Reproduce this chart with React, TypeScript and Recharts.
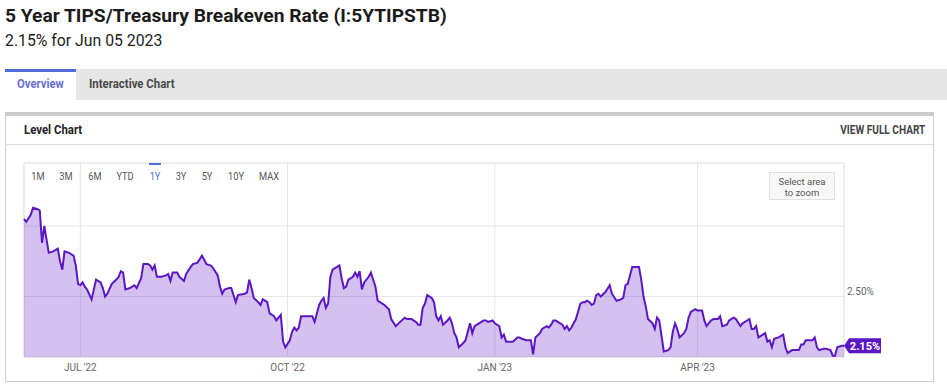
import { AreaChart, Area, XAxis, YAxis, CartesianGrid, ReferenceArea, ReferenceDot } from "recharts"

const title = "5 Year TIPS/Treasury Breakeven Rate (I:5YTIPSTB)"
const subtitle = "2.15% for Jun 05 2023"

const dates = [
    "2022-06-06", "2022-06-07", "2022-06-09", "2022-06-10", "2022-06-12", "2022-06-13", "2022-06-14", "2022-06-15", "2022-06-17", "2022-06-19", "2022-06-21", "2022-06-22", "2022-06-23", "2022-06-24", "2022-06-26", "2022-06-28", "2022-06-29", "2022-06-30",
    "2022-07-01", "2022-07-02", "2022-07-03", "2022-07-04", "2022-07-06", "2022-07-08", "2022-07-10", "2022-07-11", "2022-07-12", "2022-07-13", "2022-07-15", "2022-07-17", "2022-07-18", "2022-07-19", "2022-07-20", "2022-07-21", "2022-07-23", "2022-07-25", "2022-07-26", "2022-07-28", "2022-07-29", "2022-07-31",
    "2022-08-01", "2022-08-02", "2022-08-03", "2022-08-04", "2022-08-06", "2022-08-08", "2022-08-09", "2022-08-10", "2022-08-11", "2022-08-13", "2022-08-14", "2022-08-16", "2022-08-17", "2022-08-19", "2022-08-20", "2022-08-22", "2022-08-24", "2022-08-26", "2022-08-28", "2022-08-29", "2022-08-31",
    "2022-09-01", "2022-09-02", "2022-09-03", "2022-09-05", "2022-09-06", "2022-09-08", "2022-09-09", "2022-09-12", "2022-09-13", "2022-09-14", "2022-09-15", "2022-09-16", "2022-09-18", "2022-09-19", "2022-09-20", "2022-09-22", "2022-09-23", "2022-09-25", "2022-09-26", "2022-09-28", "2022-09-29", "2022-09-30",
    "2022-10-02", "2022-10-03", "2022-10-04", "2022-10-05", "2022-10-06", "2022-10-07", "2022-10-10", "2022-10-12", "2022-10-13", "2022-10-14", "2022-10-15", "2022-10-16", "2022-10-17", "2022-10-18", "2022-10-19", "2022-10-20", "2022-10-21", "2022-10-23", "2022-10-24", "2022-10-25", "2022-10-26", "2022-10-27", "2022-10-28", "2022-10-30", "2022-10-31",
    "2022-11-01", "2022-11-02", "2022-11-03", "2022-11-04", "2022-11-06", "2022-11-07", "2022-11-09", "2022-11-10", "2022-11-11", "2022-11-13", "2022-11-15", "2022-11-16", "2022-11-18", "2022-11-20", "2022-11-22", "2022-11-23", "2022-11-25", "2022-11-27", "2022-11-28", "2022-11-29", "2022-11-30",
    "2022-12-01", "2022-12-02", "2022-12-04", "2022-12-05", "2022-12-06", "2022-12-07", "2022-12-08", "2022-12-09", "2022-12-11", "2022-12-12", "2022-12-13", "2022-12-14", "2022-12-15", "2022-12-16", "2022-12-18", "2022-12-19", "2022-12-20", "2022-12-21", "2022-12-22", "2022-12-23", "2022-12-25", "2022-12-27", "2022-12-28", "2022-12-29", "2022-12-31",
    "2023-01-01", "2023-01-03", "2023-01-04", "2023-01-05", "2023-01-06", "2023-01-08", "2023-01-09", "2023-01-11", "2023-01-12", "2023-01-13", "2023-01-15", "2023-01-17", "2023-01-18", "2023-01-19", "2023-01-21", "2023-01-22", "2023-01-24", "2023-01-25", "2023-01-26", "2023-01-27", "2023-01-28", "2023-01-30", "2023-01-31",
    "2023-02-01", "2023-02-02", "2023-02-03", "2023-02-04", "2023-02-05", "2023-02-06", "2023-02-08", "2023-02-09", "2023-02-10", "2023-02-11", "2023-02-12", "2023-02-13", "2023-02-14", "2023-02-15", "2023-02-16", "2023-02-17", "2023-02-19", "2023-02-21", "2023-02-22", "2023-02-24", "2023-02-26", "2023-02-27", "2023-02-28",
    "2023-03-01", "2023-03-03", "2023-03-06", "2023-03-07", "2023-03-08", "2023-03-09", "2023-03-10", "2023-03-12", "2023-03-13", "2023-03-14", "2023-03-15", "2023-03-17", "2023-03-19", "2023-03-20", "2023-03-21", "2023-03-22", "2023-03-23", "2023-03-24", "2023-03-26", "2023-03-27", "2023-03-28", "2023-03-29", "2023-03-31",
    "2023-04-01", "2023-04-03", "2023-04-04", "2023-04-05", "2023-04-07", "2023-04-08", "2023-04-10", "2023-04-11", "2023-04-12", "2023-04-14", "2023-04-15", "2023-04-17", "2023-04-18", "2023-04-20", "2023-04-21", "2023-04-23", "2023-04-24", "2023-04-25", "2023-04-26", "2023-04-27", "2023-04-28", "2023-04-30",
    "2023-05-01", "2023-05-02", "2023-05-03", "2023-05-04", "2023-05-05", "2023-05-07", "2023-05-09", "2023-05-10", "2023-05-11", "2023-05-13", "2023-05-15", "2023-05-16", "2023-05-17", "2023-05-18", "2023-05-19", "2023-05-21", "2023-05-22", "2023-05-23", "2023-05-24", "2023-05-25", "2023-05-27", "2023-05-28", "2023-05-30", "2023-05-31",
    "2023-06-01", "2023-06-02", "2023-06-04", "2023-06-05",
]

const rates = [
    3.05, 3.03, 3.08, 3.13, 3.12, 3.11, 2.88, 3.00, 2.81, 2.82, 2.84, 2.75, 2.69, 2.82, 2.81, 2.79, 2.72, 2.59,
    2.58, 2.60, 2.57, 2.55, 2.48, 2.62, 2.60, 2.56, 2.50, 2.52, 2.59, 2.62, 2.64, 2.68, 2.67, 2.55, 2.56, 2.58, 2.56, 2.63, 2.73, 2.73,
    2.72, 2.69, 2.72, 2.64, 2.64, 2.65, 2.66, 2.61, 2.67, 2.67, 2.64, 2.61, 2.66, 2.71, 2.73, 2.74, 2.79, 2.73, 2.72, 2.70, 2.65,
    2.57, 2.52, 2.55, 2.56, 2.56, 2.46, 2.51, 2.52, 2.53, 2.62, 2.56, 2.49, 2.46, 2.44, 2.48, 2.46, 2.38, 2.36, 2.33, 2.37, 2.18, 2.14,
    2.19, 2.25, 2.28, 2.26, 2.28, 2.36, 2.36, 2.36, 2.32, 2.38, 2.44, 2.47, 2.49, 2.42, 2.45, 2.64, 2.69, 2.71, 2.72, 2.63, 2.56, 2.57, 2.62, 2.64, 2.67,
    2.64, 2.68, 2.55, 2.60, 2.64, 2.67, 2.57, 2.47, 2.46, 2.44, 2.41, 2.34, 2.29, 2.32, 2.35, 2.34, 2.34, 2.32, 2.30, 2.30, 2.42,
    2.45, 2.51, 2.49, 2.46, 2.36, 2.33, 2.36, 2.30, 2.33, 2.35, 2.31, 2.24, 2.21, 2.14, 2.17, 2.19, 2.25, 2.31, 2.24, 2.29, 2.31, 2.33, 2.33, 2.32, 2.33,
    2.31, 2.29, 2.21, 2.23, 2.18, 2.18, 2.18, 2.21, 2.21, 2.20, 2.19, 2.19, 2.09, 2.21, 2.24, 2.27, 2.29, 2.28, 2.30, 2.33, 2.33, 2.31, 2.30,
    2.27, 2.29, 2.26, 2.28, 2.31, 2.34, 2.45, 2.46, 2.46, 2.47, 2.46, 2.44, 2.45, 2.51, 2.52, 2.50, 2.53, 2.58, 2.52, 2.47, 2.48, 2.49, 2.58,
    2.59, 2.71, 2.71, 2.62, 2.50, 2.43, 2.34, 2.31, 2.27, 2.35, 2.33, 2.11, 2.12, 2.14, 2.25, 2.31, 2.27, 2.21, 2.24, 2.27, 2.35, 2.39, 2.41,
    2.40, 2.40, 2.33, 2.29, 2.33, 2.34, 2.34, 2.36, 2.29, 2.30, 2.33, 2.35, 2.34, 2.29, 2.31, 2.33, 2.34, 2.27, 2.27, 2.29, 2.21, 2.23,
    2.24, 2.18, 2.19, 2.14, 2.20, 2.21, 2.23, 2.14, 2.10, 2.12, 2.12, 2.12, 2.16, 2.16, 2.19, 2.19, 2.19, 2.21, 2.14, 2.12, 2.13, 2.13, 2.12, 2.08,
    2.08, 2.14, 2.15, 2.15,
]

const monthTicks = ["2022-07-01", "2022-10-01", "2023-01-01", "2023-04-01"]
const monthLabels = ["JUL '22", "OCT '22", "JAN '23", "APR '23"]
const rateTicks = [2.5, 3.0]
const labelledRates = [2.5]
const rangeStart = "2022-06-06"
const rangeEnd = "2023-06-05"
const rateDomain = [2.071, 3.447]

const ranges = ["1M", "3M", "6M", "YTD", "1Y", "3Y", "5Y", "10Y", "MAX"]
const activeRange = "1Y"

const ts = (d: string) => Date.parse(d + "T00:00:00Z")

const data = dates.map((d, i) => ({ t: ts(d), v: rates[i] }))
const lastPoint = data[data.length - 1]

const PURPLE = "#5b17c4"
const BLUE = "#4f6edb"
const FONT = "Roboto, 'Noto Sans', sans-serif"

// x centres of the range buttons
const rangeX = [38, 66, 95, 125, 155, 181, 207, 236, 269]

function MonthTick({ x, y, payload }: any) {
    const i = monthTicks.map(ts).indexOf(payload.value)
    return (
        <text x={x} y={y + 14} textAnchor="middle" fill="#666" fontSize={10} fontFamily={FONT}>
            {monthLabels[i]}
        </text>
    )
}

function RateTick({ x, y, payload }: any) {
    if (!labelledRates.includes(payload.value)) return null
    return (
        <text x={x} y={y - 1.5} textAnchor="start" fill="#666" fontSize={10} fontFamily={FONT}>
            {payload.value.toFixed(2)}%
        </text>
    )
}

function PriceTag({ cx, cy }: any) {
    const a = 5, w = 32, h = 15
    return (
        <g>
            <path d={`M${cx},${cy} L${cx + a},${cy - h / 2} H${cx + a + w} V${cy + h / 2} H${cx + a} Z`} fill={PURPLE} />
            <text x={cx + a + w / 2} y={cy + 4} textAnchor="middle" fill="#fff" fontSize={11} fontWeight={700} fontFamily={FONT}>
                {lastPoint.v.toFixed(2)}%
            </text>
        </g>
    )
}

function Narrow({ children, scale, origin = "left center", style }: any) {
    return (
        <span style={{ display: "inline-block", whiteSpace: "nowrap", transform: `scaleX(${scale})`, transformOrigin: origin, ...style }}>
            {children}
        </span>
    )
}

export default function App() {
    return (
        <div style={{ position: "absolute", left: 0, top: 0, width: 947, height: 387, background: "#fff", fontFamily: FONT, overflow: "hidden" }}>
            <div style={{ position: "absolute", left: 5, top: 3.5, fontSize: 19.2, fontWeight: 700, color: "#1b1b1b", whiteSpace: "nowrap" }}>
                {title}
            </div>
            <div style={{ position: "absolute", left: 5, top: 31, fontSize: 15.8, color: "#222", whiteSpace: "nowrap" }}>
                {subtitle}
            </div>

            {/* tabs */}
            <div style={{ position: "absolute", left: 5, top: 69, width: 942, height: 31, background: "#e6e6e6" }} />
            <div style={{ position: "absolute", left: 5, top: 69, width: 71, height: 31, background: "#fff", borderTop: `3px solid ${BLUE}`, boxSizing: "border-box" }} />
            <div style={{ position: "absolute", left: 17, top: 77, fontSize: 12, fontWeight: 700, color: "#6a70d8" }}>
                <Narrow scale={0.94}>Overview</Narrow>
            </div>
            <div style={{ position: "absolute", left: 89, top: 77, fontSize: 12, fontWeight: 700, color: "#4a4a4a" }}>
                <Narrow scale={0.95}>Interactive Chart</Narrow>
            </div>

            {/* card */}
            <div style={{ position: "absolute", left: 5, top: 112, width: 929, height: 270, border: "1px solid #cccccc", borderTop: "4px solid #cccccc", boxSizing: "border-box" }} />
            <div style={{ position: "absolute", left: 5, top: 144, width: 929, height: 1, background: "#dcdcdc" }} />
            <div style={{ position: "absolute", left: 24, top: 123, fontSize: 12, fontWeight: 700, color: "#222" }}>
                <Narrow scale={0.95}>Level Chart</Narrow>
            </div>
            <div style={{ position: "absolute", right: 22, top: 123, fontSize: 12, fontWeight: 700, color: "#444" }}>
                <Narrow scale={0.84} origin="right center">VIEW FULL CHART</Narrow>
            </div>

            {/* chart */}
            <div style={{ position: "absolute", left: 0, top: 140 }}>
                <AreaChart width={947} height={247} data={data} margin={{ top: 23, right: 43, bottom: 10, left: 24 }}>
                    <CartesianGrid stroke="#e6e6e6" />
                    <ReferenceArea
                        x1={ts(rangeStart)}
                        x2={ts(rangeEnd)}
                        y1={rateDomain[0]}
                        y2={rateDomain[1]}
                        fill="none"
                        stroke="#e6e6e6"
                    />
                    <XAxis
                        dataKey="t"
                        type="number"
                        domain={[ts(rangeStart), ts(rangeEnd)]}
                        ticks={monthTicks.map(ts)}
                        tick={<MonthTick />}
                        tickLine={false}
                        axisLine={false}
                        tickSize={0}
                        tickMargin={0}
                        height={20}
                    />
                    <YAxis
                        orientation="right"
                        type="number"
                        domain={rateDomain}
                        allowDataOverflow
                        ticks={rateTicks}
                        tick={<RateTick />}
                        tickLine={false}
                        axisLine={false}
                        tickSize={0}
                        tickMargin={3}
                        width={60}
                    />
                    <Area
                        type="linear"
                        dataKey="v"
                        stroke={PURPLE}
                        strokeWidth={2}
                        fill="#7133c9"
                        fillOpacity={0.3}
                        dot={false}
                        activeDot={false}
                        isAnimationActive={false}
                    />
                    <ReferenceDot x={lastPoint.t} y={lastPoint.v} r={0} shape={<PriceTag />} />
                </AreaChart>
            </div>

            {/* range selector */}
            {ranges.map((r, i) => (
                <div key={r} style={{ position: "absolute", left: rangeX[i], top: 170, fontSize: 11, color: r === activeRange ? BLUE : "#555" }}>
                    <span style={{ display: "inline-block", whiteSpace: "nowrap", transform: "translateX(-50%) scaleX(0.84)" }}>{r}</span>
                </div>
            ))}
            <div style={{ position: "absolute", left: 149, top: 163, width: 12, height: 2, background: BLUE }} />
            <div
                style={{
                    position: "absolute", left: 769, top: 172, width: 66, height: 28, boxSizing: "border-box",
                    background: "#f7f7f7", border: "1px solid #e0e0e0", fontSize: 9.5, lineHeight: "11px",
                    color: "#555", textAlign: "center", paddingTop: 3,
                }}
            >
                Select area<br />to zoom
            </div>
        </div>
    )
}
